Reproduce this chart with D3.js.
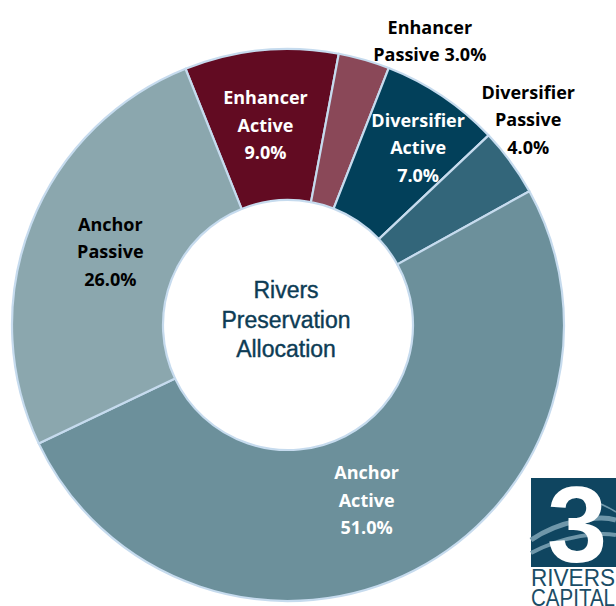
<!DOCTYPE html>
<html><head><meta charset="utf-8">
<script src="https://cdn.jsdelivr.net/npm/d3@7"></script>
<style>html,body{margin:0;padding:0;background:#fff;}svg{display:block;}</style>
</head><body>
<svg id="chart" width="616" height="606"></svg>
<script>
// ---- data ----
const categories = ["Enhancer Active","Enhancer Passive","Diversifier Active","Diversifier Passive","Anchor Active","Anchor Passive"];
const values = [9, 3, 7, 4, 51, 26];
const centerTitle = ["Rivers","Preservation","Allocation"];

// ---- styles / layout ----
const sliceColors = {"Enhancer Active":"#620b22","Enhancer Passive":"#8a4858","Diversifier Active":"#02405a","Diversifier Passive":"#33667a","Anchor Active":"#6c909b","Anchor Passive":"#8ba7ae"};
const labelColors = {"Enhancer Active":"#ffffff","Enhancer Passive":"#000000","Diversifier Active":"#ffffff","Diversifier Passive":"#000000","Anchor Active":"#ffffff","Anchor Passive":"#000000"};
const outside = {"Enhancer Passive":true,"Diversifier Passive":true};
const nudge = {"Enhancer Active":[-3,0],"Enhancer Passive":[55,19],"Diversifier Active":[18,-11],"Diversifier Passive":[-14,-19],"Anchor Active":[-13,-3],"Anchor Passive":[9,0]};

const cx = 288, cy = 325, R = 276, r0 = 125;
const svg = d3.select("#chart");
const g = svg.append("g").attr("transform", `translate(${cx},${cy})`);

const start = -21.8 * Math.PI / 180;
const pie = d3.pie().sort(null).value(d => d.v).startAngle(start).endAngle(start + 2*Math.PI);
const data = categories.map((c,i) => ({c, v: values[i]}));
const arcs = pie(data);
const arc = d3.arc().innerRadius(r0).outerRadius(R);
const outerArc = d3.arc().innerRadius(315).outerRadius(315);

g.selectAll("path.slice").data(arcs).enter().append("path")
  .attr("class","slice")
  .attr("d", arc)
  .attr("fill", d => sliceColors[d.data.c])
  .attr("stroke", "#c6dbee")
  .attr("stroke-width", 2.2)
  .attr("stroke-linejoin","round");

// labels
const lineH = 27.5;
arcs.forEach(d => {
  const c = d.data.c;
  const parts = c.split(" ");
  const pct = d.data.v.toFixed(1) + "%";
  let lines = c === "Enhancer Passive" ? [parts[0], parts[1] + " " + pct] : [parts[0], parts[1], pct];
  const p = (outside[c] ? outerArc : arc).centroid(d);
  const x = p[0] + nudge[c][0], y = p[1] + nudge[c][1];
  const t = g.append("text")
    .attr("text-anchor","middle")
    .attr("font-family","'Open Sans', 'Noto Sans', sans-serif")
    .attr("font-weight","bold")
    .attr("font-size", 18)
    .attr("fill", labelColors[c]);
  const n = lines.length;
  lines.forEach((L,i) => {
    t.append("tspan").attr("x", x).attr("y", y + 6.5 + (i - (n-1)/2) * lineH).text(L);
  });
});

// center title
const ct = g.append("text").attr("text-anchor","middle")
  .attr("font-family","'Liberation Sans', Arial, sans-serif")
  .attr("font-size", 23).attr("fill","#0d3c55")
  .attr("stroke","#0d3c55").attr("stroke-width",0.4);
centerTitle.forEach((L,i) => ct.append("tspan").attr("x",-2).attr("y", -27 + i*29.5).text(L));

// logo (decoration)
const logo = svg.append("g");
logo.append("rect").attr("x",531).attr("y",478).attr("width",90).attr("height",89).attr("fill","#0f4560");
const sw = logo.append("g").attr("fill","none").attr("stroke","#6f97aa");
sw.append("path").attr("d","M531,540 C560,520 600,515 616,520").attr("stroke-width",5);
sw.append("path").attr("d","M531,553 C565,535 600,532 616,535").attr("stroke-width",4);
sw.append("path").attr("d","M560,495 C585,496 605,505 616,512").attr("stroke-width",1.5);
logo.append("text").attr("x",577).attr("y",562).attr("text-anchor","middle")
  .attr("font-family","'Liberation Sans', Arial, sans-serif").attr("font-weight","bold")
  .attr("font-size",108).attr("fill","#ffffff").text("3");
logo.append("text").attr("x",531).attr("y",586).attr("font-family","'Liberation Sans', Arial, sans-serif")
  .attr("font-size",24).attr("textLength",84).attr("lengthAdjust","spacingAndGlyphs")
  .attr("fill","#1b4d66").text("RIVERS");
logo.append("text").attr("x",531).attr("y",606).attr("font-family","'Liberation Sans', Arial, sans-serif")
  .attr("font-size",24).attr("textLength",84).attr("lengthAdjust","spacingAndGlyphs")
  .attr("fill","#1b4d66").text("CAPITAL");
</script>
</body></html>
